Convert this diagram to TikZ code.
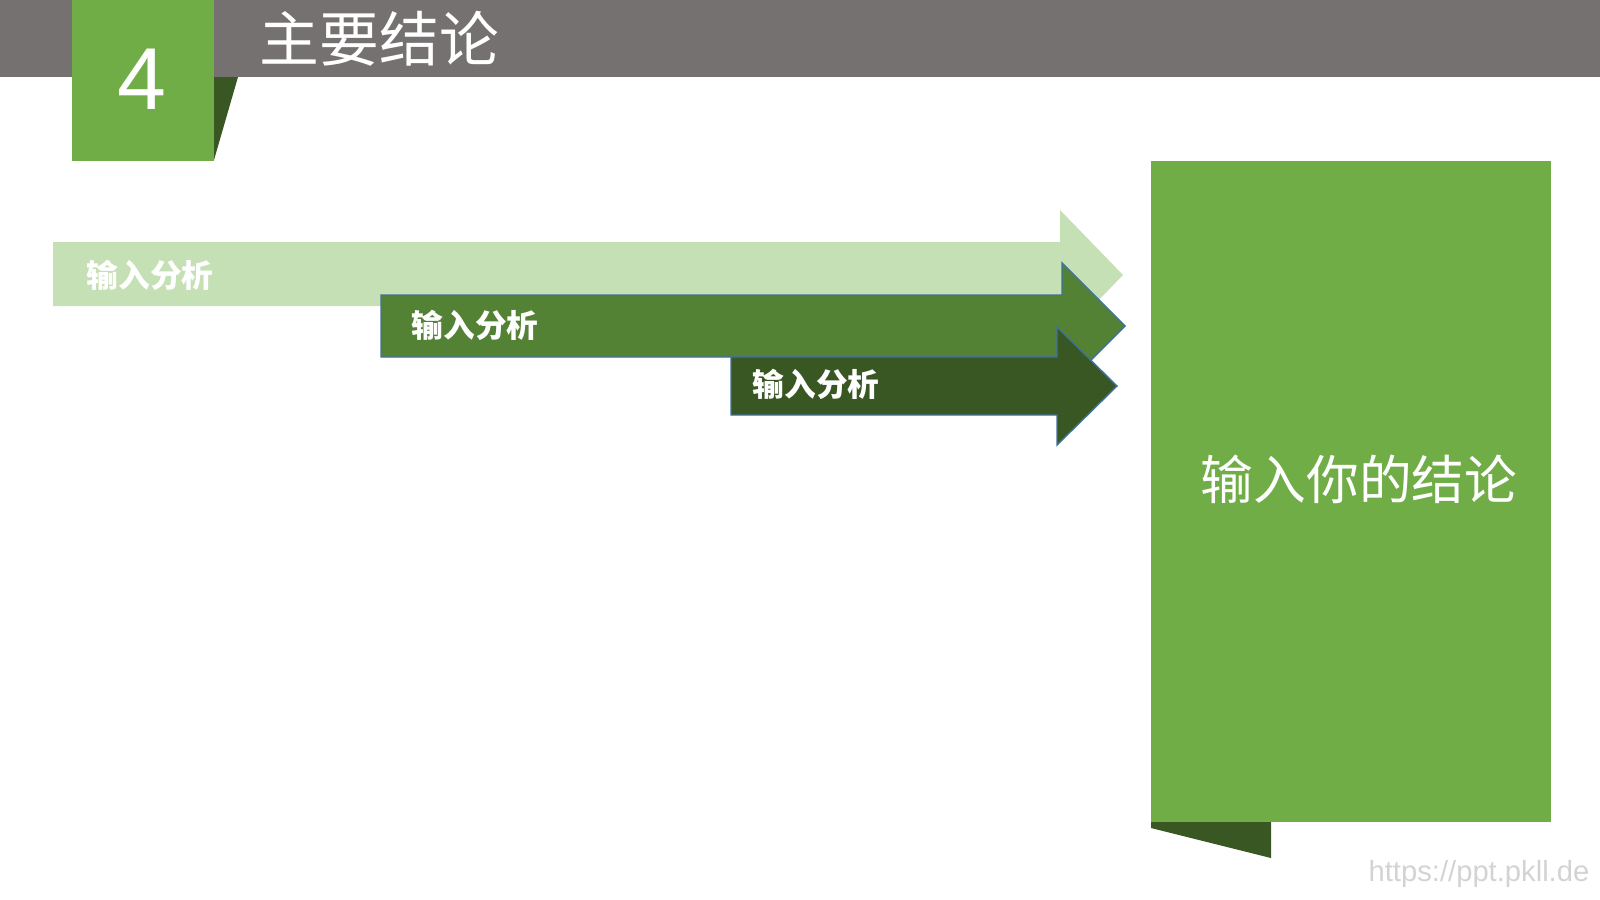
\documentclass[tikz,border=0pt]{standalone}
\usepackage{fontspec}
\setmainfont{Liberation Sans}
\newfontfamily\cjk{Noto Sans CJK SC}
\definecolor{headgray}{HTML}{767171}
\definecolor{leaf}{HTML}{70AD47}
\definecolor{leafpale}{HTML}{C5E0B4}
\definecolor{leafmid}{HTML}{548235}
\definecolor{leafdark}{HTML}{385723}
\definecolor{edgeblue}{HTML}{41719C}
\definecolor{urlgray}{HTML}{D3D3D3}
\begin{document}
\begin{tikzpicture}[x=0.01cm, y=-0.01cm,
    tag/.style={text=white, anchor=west, inner sep=0pt, font=\cjk\bfseries\fontsize{9}{9}\selectfont},
    band/.style={draw=edgeblue, line width=0.4pt}]
    \useasboundingbox (0,0) rectangle (1600,900);
    \fill[headgray] (0,0) rectangle (1600,77);
    \fill[leafdark] (214,77) -- (238,77) -- (214,160) -- cycle;
    \fill[leaf] (72,0) rectangle (214,161);
    \node[text=white, font=\fontsize{25}{25}\selectfont] (num) at (142,79) {4};
    \node[anchor=west, inner sep=0pt, text=white, font=\cjk\fontsize{17}{17}\selectfont] (title) at (259,39) {主要结论};
    \fill[leafpale] (53,242) -- (1060,242) -- (1060,210) -- (1123,275) -- (1060,340) -- (1060,306) -- (53,306) -- cycle;
    \filldraw[fill=leafmid, band] (381,295) -- (1062,295) -- (1062,263) -- (1125,326) -- (1062,389) -- (1062,357) -- (381,357) -- cycle;
    \filldraw[fill=leafdark, band] (731,357) -- (1057,357) -- (1057,327) -- (1117,386) -- (1057,445) -- (1057,415) -- (731,415) -- cycle;
    \node[tag] (stepa) at (86,275) {输入分析};
    \node[tag] (stepb) at (411,325) {输入分析};
    \node[tag] (stepc) at (752,384) {输入分析};
    \fill[leafdark] (1151,822) -- (1271,822) -- (1271,858) -- (1151,828) -- cycle;
    \fill[leaf] (1151,161) rectangle (1551,822);
    \node[text=white, font=\cjk\fontsize{15}{15}\selectfont] (result) at (1359,479) {输入你的结论};
    \node[anchor=base east, inner sep=0pt, text=urlgray, font=\fontsize{8.3}{8.3}\selectfont] (url) at (1590,881) {https://ppt.pkll.de};
\end{tikzpicture}
\end{document}
